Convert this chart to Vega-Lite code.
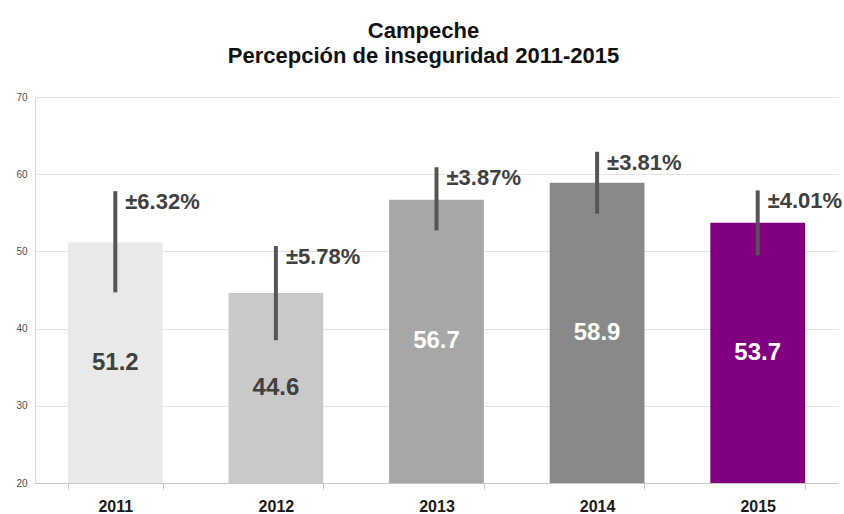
{
  "$schema": "https://vega.github.io/schema/vega-lite/v6.json",
  "width": 803,
  "height": 386,
  "autosize": {"type": "none"},
  "padding": {"left": 35, "top": 97, "right": 6, "bottom": 31},
  "background": "white",
  "title": {
    "text": ["Campeche", "Percepción de inseguridad 2011-2015"],
    "font": "Liberation Sans",
    "fontSize": 22,
    "fontWeight": "bold",
    "color": "#111111",
    "lineHeight": 25,
    "anchor": "middle",
    "dx": -13,
    "offset": 24
  },
  "data": {
    "values": [
      {"year": "2011", "value": 51.2, "low": 44.7, "high": 57.8, "err": "±6.32%"},
      {"year": "2012", "value": 44.6, "low": 38.5, "high": 50.7, "err": "±5.78%"},
      {"year": "2013", "value": 56.7, "low": 52.7, "high": 60.9, "err": "±3.87%"},
      {"year": "2014", "value": 58.9, "low": 54.9, "high": 62.9, "err": "±3.81%"},
      {"year": "2015", "value": 53.7, "low": 49.5, "high": 57.9, "err": "±4.01%"}
    ]
  },
  "encoding": {
    "x": {
      "field": "year",
      "type": "nominal",
      "scale": {"paddingInner": 0.41, "paddingOuter": 0.205},
      "axis": {
        "title": null,
        "labelAngle": 0,
        "labelFont": "Liberation Sans",
        "labelFontSize": 16,
        "labelFontWeight": "bold",
        "labelColor": "#1a1a1a",
        "labelPadding": 9,
        "tickBand": "extent",
        "tickSize": 6,
        "tickColor": "#c8c8c8",
        "domainColor": "#c8c8c8",
        "grid": false
      }
    }
  },
  "layer": [
    {
      "layer": [
        {
          "mark": {"type": "bar"},
          "encoding": {
            "y": {
              "field": "value",
              "type": "quantitative",
              "scale": {"domain": [20, 70], "zero": false, "nice": false},
              "axis": {
                "title": null,
                "values": [20, 30, 40, 50, 60, 70],
                "labelFont": "Liberation Sans",
                "labelFontSize": 10,
                "labelColor": "#4d4d4d",
                "labelPadding": 8,
                "ticks": false,
                "domain": true,
                "domainColor": "#d9d9d9",
                "gridColor": "#e4e4e4",
                "grid": true
              }
            },
            "y2": {"datum": 20},
            "color": {
              "field": "year",
              "type": "nominal",
              "scale": {
                "domain": ["2011", "2012", "2013", "2014", "2015"],
                "range": ["#e9e9e9", "#c9c9c9", "#a7a7a7", "#898989", "#800080"]
              },
              "legend": null
            }
          }
        },
        {
          "mark": {"type": "rule", "strokeWidth": 4, "color": "#555555"},
          "encoding": {
            "y": {"field": "low", "type": "quantitative", "scale": {"domain": [20, 70], "zero": false, "nice": false}},
            "y2": {"field": "high"}
          }
        },
        {
          "mark": {
            "type": "text",
            "align": "left",
            "baseline": "middle",
            "dx": 10,
            "dy": 11,
            "font": "Liberation Sans",
            "fontSize": 22,
            "fontWeight": "bold",
            "color": "#404040"
          },
          "encoding": {
            "y": {"field": "high", "type": "quantitative", "scale": {"domain": [20, 70], "zero": false, "nice": false}},
            "text": {"field": "err"}
          }
        }
      ]
    },
    {
      "mark": {
        "type": "text",
        "align": "center",
        "baseline": "middle",
        "font": "Liberation Sans",
        "fontSize": 24,
        "fontWeight": "bold"
      },
      "encoding": {
        "y": {
          "field": "value",
          "type": "quantitative",
          "scale": {"domain": [20, 120], "zero": false, "nice": false},
          "axis": null
        },
        "text": {"field": "value", "type": "quantitative", "format": ".1f"},
        "color": {
          "condition": {"test": "datum.year == '2011' || datum.year == '2012'", "value": "#404040"},
          "value": "#ffffff"
        }
      }
    }
  ],
  "resolve": {"scale": {"y": "independent"}},
  "config": {"view": {"stroke": null}}
}
